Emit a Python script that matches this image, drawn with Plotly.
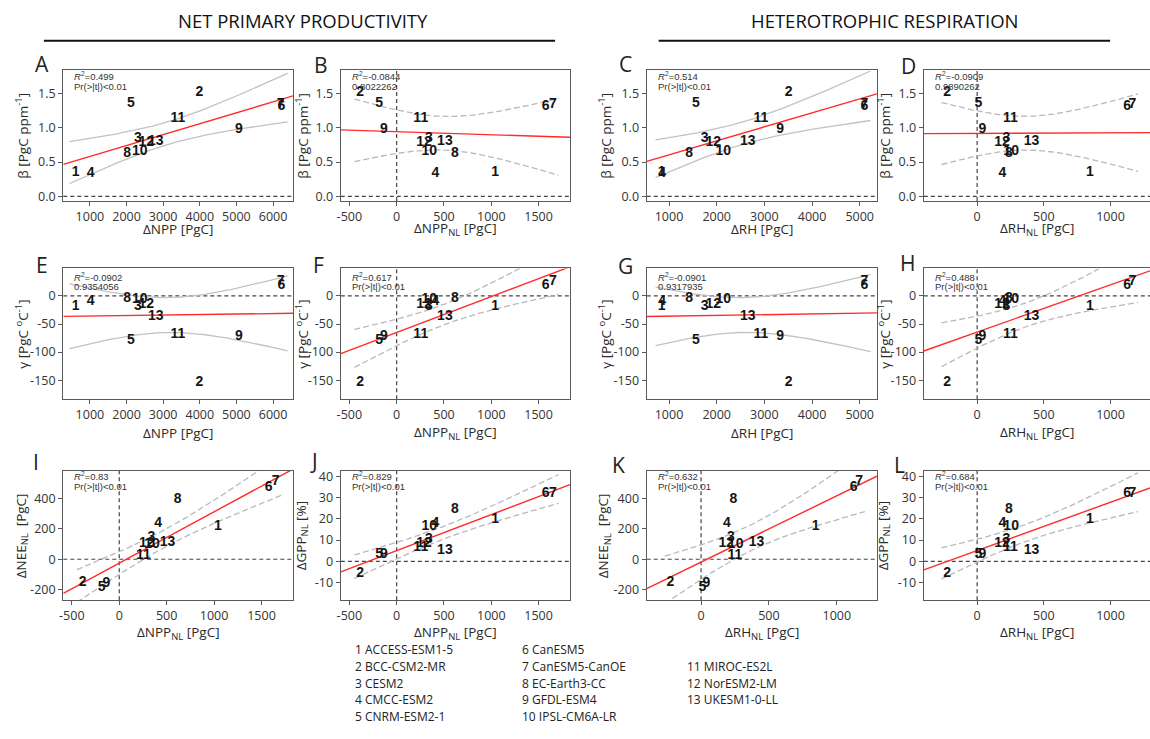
import numpy as np
import plotly.graph_objects as go

# ---- model ensemble -------------------------------------------------------
model_ids = list(range(1, 14))
model_names = ["ACCESS-ESM1-5", "BCC-CSM2-MR", "CESM2", "CMCC-ESM2", "CNRM-ESM2-1",
               "CanESM5", "CanESM5-CanOE", "EC-Earth3-CC", "GFDL-ESM4", "IPSL-CM6A-LR",
               "MIROC-ES2L", "NorESM2-LM", "UKESM1-0-LL"]

# predictors [PgC]
d_npp = [610, 3990, 2310, 1020, 2120, 6230, 6210, 2020, 5070, 2360, 3400, 2540, 2800]
d_npp_nl = [1040, -385, 340, 410, -185, 1575, 1650, 615, -135, 345, 255, 290, 510]
d_rh = [845, 3510, 1750, 855, 1565, 5100, 5100, 1425, 3330, 2140, 2930, 1930, 2650]
d_rh_nl = [845, -225, 220, 190, 10, 1125, 1165, 238, 40, 255, 250, 186, 408]

# responses
beta = [0.35, 1.51, 0.85, 0.33, 1.35, 1.31, 1.34, 0.62, 0.97, 0.65, 1.13, 0.78, 0.80]
gamma = [-18, -155, -18, -10, -79, 18, 25, -4, -72, -7, -68, -16, -37]
d_nee_nl = [216, -151, 140, 238, -184, 469, 510, 393, -158, 97, 22, 106, 112]
d_gpp_nl = [19.7, -5.5, 10.5, 18.0, 3.3, 31.7, 31.7, 24.4, 3.1, 16.2, 6.4, 8.3, 5.2]

# regression summaries printed in each panel
stat_lines = {
    "A": ("0.499", "Pr(&gt;|t|)&lt;0.01"),
    "B": ("-0.0844", "0.8022262"),
    "C": ("0.514", "Pr(&gt;|t|)&lt;0.01"),
    "D": ("-0.0909", "0.9890262"),
    "E": ("-0.0902", "0.9354056"),
    "F": ("0.617", "Pr(&gt;|t|)&lt;0.01"),
    "G": ("-0.0901", "0.9317935"),
    "H": ("0.488", "Pr(&gt;|t|)&lt;0.01"),
    "I": ("0.83", "Pr(&gt;|t|)&lt;0.01"),
    "J": ("0.829", "Pr(&gt;|t|)&lt;0.01"),
    "K": ("0.632", "Pr(&gt;|t|)&lt;0.01"),
    "L": ("0.684", "Pr(&gt;|t|)&lt;0.01"),
}

# ---- axis definitions -----------------------------------------------------
npp_ticks = [1000, 2000, 3000, 4000, 5000, 6000]
nl_ticks = [-500, 0, 500, 1000, 1500]
rh_ticks = [1000, 2000, 3000, 4000, 5000]
rhnl_ticks = [0, 500, 1000]
beta_ticks = [0.0, 0.5, 1.0, 1.5]
gamma_ticks = [-150, -100, -50, 0]
nee_ticks = [-200, 0, 200, 400]
gpp_ticks = [-10, 0, 10, 20, 30, 40]

beta_title = "β [PgC ppm<sup>-1</sup>]"
gamma_title = "γ [PgC <sup>o</sup>C<sup>-1</sup>]"
nee_title = "ΔNEE<sub>NL</sub>  [PgC]"
gpp_title = "ΔGPP<sub>NL</sub> [%]"

R_NPP, R_NL, R_RH, R_RHNL = [273, 6545], [-590, 1832], [533, 5362], [-400, 1296]
R_BETA, R_GAMMA, R_NEE, R_GPP = [-0.07, 1.84], [-184, 49], [-270, 584], [-18.3, 42.7]

X_NPP = ("ΔNPP [PgC]", d_npp, R_NPP, npp_ticks, False)
X_NL = ("ΔNPP<sub>NL</sub> [PgC]", d_npp_nl, R_NL, nl_ticks, True)
X_RH = ("ΔRH [PgC]", d_rh, R_RH, rh_ticks, False)
X_RHNL = ("ΔRH<sub>NL</sub> [PgC]", d_rh_nl, R_RHNL, rhnl_ticks, True)

Y_BETA = (beta_title, beta, R_BETA, beta_ticks, True)
Y_GAMMA = (gamma_title, gamma, R_GAMMA, gamma_ticks, False)
Y_NEE = (nee_title, d_nee_nl, R_NEE, nee_ticks, False)
Y_GPP = (gpp_title, d_gpp_nl, R_GPP, gpp_ticks, False)

panels = [
    ("A", X_NPP, Y_BETA), ("B", X_NL, Y_BETA), ("C", X_RH, Y_BETA), ("D", X_RHNL, Y_BETA),
    ("E", X_NPP, Y_GAMMA), ("F", X_NL, Y_GAMMA), ("G", X_RH, Y_GAMMA), ("H", X_RHNL, Y_GAMMA),
    ("I", X_NL, Y_NEE), ("J", X_NL, Y_GPP), ("K", X_RHNL, Y_NEE), ("L", X_RHNL, Y_GPP),
]

# ---- page geometry (pixels) ----------------------------------------------
W, H = 1150, 739
col_px = [(59.5, 290), (338, 568), (645, 876), (923, 1150)]
row_px = [(68, 200), (268, 400), (472, 603)]
stat_offsets = [(6, 16), (9, 18), (6, 16)]
ytitle_x = [18, 299, 603, 883]
xtitle_y = [228, 434, 636]
letter_pos = {
    "A": (38, 62), "B": (318, 63), "C": (624, 62), "D": (908, 64),
    "E": (38, 265), "F": (316, 265), "G": (624, 266), "H": (907, 262),
    "I": (32, 463), "J": (311, 462), "K": (617, 466), "L": (899, 466),
}

FONT = "Open Sans, Liberation Sans, sans-serif"
LABEL_FONT = "Liberation Sans, Arial, sans-serif"
AXIS_COL = "#5a5a5a"
T_CRIT = 2.200985  # Student t, 0.975 quantile, 11 degrees of freedom


def px(xp):
    return xp / W


def py(yp):
    return 1 - yp / H


def fit_with_band(x, y, xs):
    x = np.asarray(x, float)
    y = np.asarray(y, float)
    n = len(x)
    slope, icpt = np.polyfit(x, y, 1)
    resid = y - (icpt + slope * x)
    s = np.sqrt(np.sum(resid ** 2) / (n - 2))
    sxx = np.sum((x - x.mean()) ** 2)
    se = s * np.sqrt(1.0 / n + (xs - x.mean()) ** 2 / sxx)
    return slope, icpt, se * T_CRIT


fig = go.Figure()
layout = dict(
    width=W, height=H, margin=dict(l=0, r=0, t=0, b=0),
    plot_bgcolor="white", paper_bgcolor="white", showlegend=False,
    font=dict(family=FONT, color="#2a2a2a"),
)
annotations = []
shapes = []

for k, (tag, xdef, ydef) in enumerate(panels):
    r, c = divmod(k, 4)
    xtitle, xv, xr, xticks, vzero = xdef
    ytitle, yv, yr, yticks, one_decimal = ydef
    xa = "x" if k == 0 else f"x{k + 1}"
    ya = "y" if k == 0 else f"y{k + 1}"
    xkey = "xaxis" if k == 0 else f"xaxis{k + 1}"
    ykey = "yaxis" if k == 0 else f"yaxis{k + 1}"

    x0p, x1p = col_px[c]
    y0p, y1p = row_px[r]
    layout[xkey] = dict(
        domain=[px(x0p), px(x1p)], anchor=ya, range=xr,
        tickvals=xticks, ticktext=[str(v) for v in xticks],
        showline=True, mirror=True, linecolor=AXIS_COL, linewidth=1.4,
        ticks="outside", ticklen=4, tickcolor=AXIS_COL, tickwidth=1.2,
        showgrid=False, zeroline=False,
        tickfont=dict(size=12.5, family=FONT, color="#333"),
    )
    layout[ykey] = dict(
        domain=[py(y1p), py(y0p)], anchor=xa, range=yr,
        tickvals=yticks,
        ticktext=[f"{v:.1f}" if one_decimal else str(v) for v in yticks],
        showline=True, mirror=(c != 3), linecolor=AXIS_COL, linewidth=1.4,
        ticks="outside", ticklen=4, tickcolor=AXIS_COL, tickwidth=1.2,
        showgrid=False, zeroline=False,
        tickfont=dict(size=12.5, family=FONT, color="#333"),
    )

    # reference lines at zero
    shapes.append(dict(type="line", xref=f"{xa} domain", yref=ya, x0=0, x1=1, y0=0, y1=0,
                       line=dict(color="#444", width=1.2, dash="4px,3px"), layer="below"))
    if vzero:
        shapes.append(dict(type="line", xref=xa, yref=f"{ya} domain", x0=0, x1=0, y0=0, y1=1,
                           line=dict(color="#444", width=1.2, dash="4px,3px"), layer="below"))

    # least-squares fit and 95 % confidence band of the mean
    xmin, xmax = min(xv), max(xv)
    pad = 0.03 * (xmax - xmin)
    xs = np.linspace(xmin - pad, xmax + pad, 120)
    slope, icpt, half = fit_with_band(xv, yv, xs)
    band_style = dict(color="#b9b9b9", width=1.3, dash="6px,3px") if vzero else \
        dict(color="#c2c2c2", width=1.3)
    for sign in (1, -1):
        fig.add_trace(go.Scatter(x=xs, y=icpt + slope * xs + sign * half, mode="lines",
                                 line=band_style, xaxis=xa, yaxis=ya, hoverinfo="skip"))
    xl = np.array(xr, float)
    fig.add_trace(go.Scatter(x=xl, y=icpt + slope * xl, mode="lines",
                             line=dict(color="#ff2b2b", width=1.4),
                             xaxis=xa, yaxis=ya, hoverinfo="skip"))

    # model numbers as markers
    fig.add_trace(go.Scatter(
        x=xv, y=yv, mode="text", text=[f"<b>{i}</b>" for i in model_ids],
        textposition="middle center",
        textfont=dict(size=14, family=LABEL_FONT, color="#151515"),
        xaxis=xa, yaxis=ya, hoverinfo="skip"))

    # panel statistics, two short lines in the top-left corner
    r2, second = stat_lines[tag]
    off1, off2 = stat_offsets[r]
    for yoff, line_text in ((off1, f"<i>R</i><sup>2</sup>={r2}"), (off2, second)):
        annotations.append(dict(
            xref="paper", yref="paper", x=px(x0p + 9), y=py(y0p + yoff),
            xanchor="left", yanchor="middle", showarrow=False, align="left",
            text=line_text,
            font=dict(size=9.5, family="Liberation Sans, Arial, sans-serif", color="#333")))

    # panel letter
    lx, ly = letter_pos[tag]
    annotations.append(dict(xref="paper", yref="paper", x=px(lx), y=py(ly), xanchor="center",
                            yanchor="middle", showarrow=False, text=tag,
                            font=dict(size=21, family=FONT, color="#222")))

    # axis titles
    annotations.append(dict(xref="paper", yref="paper", x=px((x0p + x1p) / 2), y=py(xtitle_y[r]),
                            xanchor="center", yanchor="middle", showarrow=False, text=xtitle,
                            font=dict(size=13.5, family=FONT, color="#2a2a2a")))
    annotations.append(dict(xref="paper", yref="paper", x=px(ytitle_x[c]),
                            y=py((y0p + y1p) / 2), xanchor="center", yanchor="middle",
                            textangle=-90, showarrow=False, text=ytitle,
                            font=dict(size=13.5, family=FONT, color="#2a2a2a")))

# column headers with rules
for text, cx, (lx0, lx1) in [("NET PRIMARY PRODUCTIVITY", 300, (40, 553)),
                             ("HETEROTROPHIC RESPIRATION", 884, (657, 1110))]:
    annotations.append(dict(xref="paper", yref="paper", x=px(cx), y=py(18), xanchor="center",
                            yanchor="middle", showarrow=False, text=text,
                            font=dict(size=18.5, family=FONT, color="#111")))
    shapes.append(dict(type="line", xref="paper", yref="paper", x0=px(lx0), x1=px(lx1),
                       y0=py(38), y1=py(38), line=dict(color="#111", width=2)))

# model key
key_cols = [(350, 653, model_ids[0:5]), (518, 653, model_ids[5:10]), (683, 670, model_ids[10:13])]
for kx, ky, ids in key_cols:
    for j, mid in enumerate(ids):
        annotations.append(dict(xref="paper", yref="paper", x=px(kx), y=py(ky + j * 16.8),
                                xanchor="left", yanchor="middle", showarrow=False,
                                text=f"{mid} {model_names[mid - 1]}",
                                font=dict(size=12, family=FONT, color="#222")))

layout["annotations"] = annotations
layout["shapes"] = shapes
fig.update_layout(**layout)
fig.write_html("out.html")
